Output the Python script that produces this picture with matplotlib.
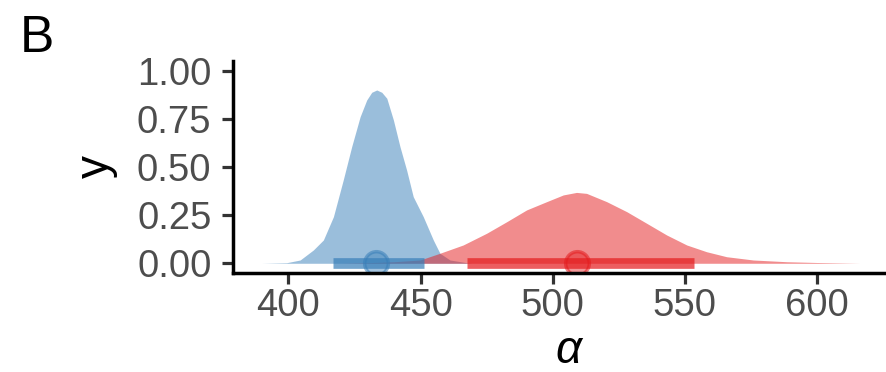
import matplotlib
matplotlib.use("Agg")
import matplotlib.pyplot as plt
from matplotlib.colors import to_rgba

plt.rcParams['font.family'] = ['Liberation Sans', 'DejaVu Sans']

# posterior densities (scaled so the tallest slab is 0.9)
blue_x = [389.9, 399.3, 404.4, 409.4, 413.2, 417.0, 420.7, 423.9, 427.1, 429.6, 431.5,
          433.4, 435.3, 437.2, 439.7, 442.2, 444.7, 447.2, 451.0, 454.8, 457.3, 461.1,
          467.4, 469.5]
blue_y = [0.0, 0.003, 0.017, 0.069, 0.121, 0.242, 0.432, 0.605, 0.761, 0.848, 0.888,
          0.900, 0.888, 0.857, 0.744, 0.605, 0.484, 0.346, 0.242, 0.121, 0.052, 0.017,
          0.003, 0.0]

red_x = [420.0, 430.0, 440.0, 449.8, 457.3, 466.1, 475.0, 482.6, 490.1, 497.7, 504.0,
         509.0, 512.8, 520.4, 528.0, 535.5, 543.1, 550.7, 558.2, 565.8, 575.9, 588.5,
         600.0, 616.2]
red_y = [0.0, 0.003, 0.008, 0.017, 0.052, 0.095, 0.156, 0.216, 0.277, 0.320, 0.355,
         0.368, 0.363, 0.320, 0.268, 0.208, 0.147, 0.095, 0.060, 0.034, 0.017, 0.008,
         0.004, 0.0]

# point estimates and intervals
medians = [433.2, 509.3]
lower = [416.7, 467.5]
upper = [451.3, 553.5]
colors = ['#377EB8', '#E41A1C']

fig = plt.figure(figsize=(8.87, 3.72), dpi=100)
ax = fig.add_axes([233 / 887, 1 - 272.9 / 372, 672 / 887, 211.8 / 372])

ax.fill_between(blue_x, 0, blue_y, color=colors[0], alpha=0.5, lw=0)
ax.fill_between(red_x, 0, red_y, color=colors[1], alpha=0.5, lw=0)

for m, lo, hi, c in zip(medians, lower, upper, colors):
    ax.plot([lo, hi], [0, 0], color=c, alpha=0.7, lw=7.7, solid_capstyle='butt')
    ax.plot(m, 0, 'o', ms=17, mfc=to_rgba(c, 0.45), mec=to_rgba(c, 0.55), mew=2.5)

ax.set_xlim(379.0, 633.3)
ax.set_ylim(-0.05, 1.05)
ax.set_xticks([400, 450, 500, 550, 600])
ax.set_yticks([0, 0.25, 0.5, 0.75, 1.0])
ax.set_yticklabels(['0.00', '0.25', '0.50', '0.75', '1.00'])

for s in ['top', 'right']:
    ax.spines[s].set_visible(False)
for s in ['left', 'bottom']:
    ax.spines[s].set_linewidth(2.5)
    ax.spines[s].set_color('black')

ax.tick_params(axis='both', length=8, width=2.3, color='#333333',
               labelcolor='#4D4D4D', labelsize=27.5)
ax.tick_params(axis='x', pad=3)
ax.tick_params(axis='y', pad=7.5)

ax.set_xlabel('α', fontsize=33, fontstyle='italic')
ax.xaxis.label.set_va('center')
ax.xaxis.set_label_coords((569 - 233) / 672, -0.37)
ax.set_ylabel('y', fontsize=33, labelpad=14)

fig.text(20 / 887, 1 - 51.7 / 372, 'B', fontsize=37, va='baseline', ha='left')

fig.savefig('out.png', dpi=100)
